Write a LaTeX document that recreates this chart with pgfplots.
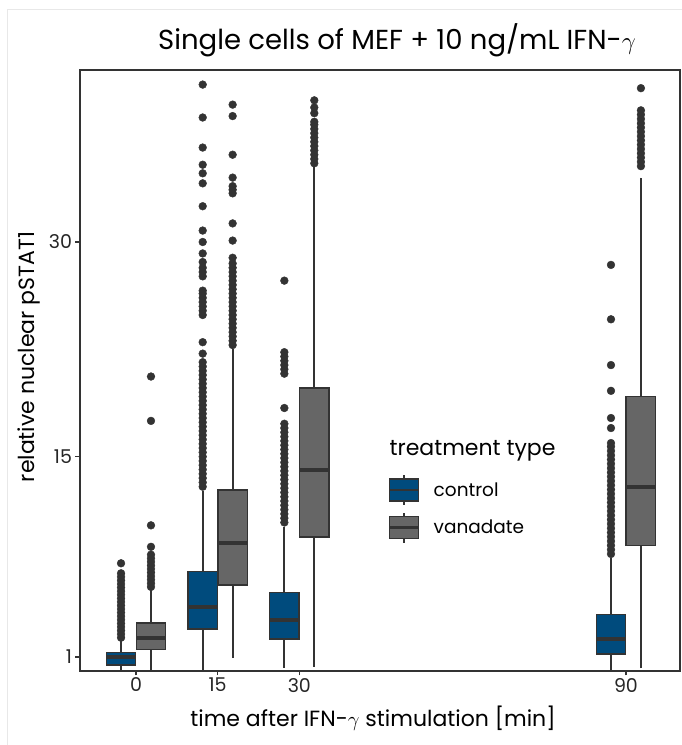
\documentclass[border=0pt]{standalone}
\usepackage{pgfplots}
\pgfplotsset{compat=1.18}
\usepgfplotslibrary{statistics}
\usepackage{fontspec}
\setmainfont{Poppins}
\definecolor{ctrl}{HTML}{004B7D}
\definecolor{vana}{HTML}{666666}
\definecolor{dk}{HTML}{333333}
\begin{document}
\begin{tikzpicture}[x=1pt,y=1pt]
\useasboundingbox (0,0) rectangle (682,745);
\draw[color=black!9, line width=0.8pt] (7,0) -- (7,736) -- (682,736);
\begin{axis}[
  at={(80pt,74pt)}, anchor=south west,
  scale only axis, width=600pt, height=601pt,
  xmin=-10.29, xmax=99.93, ymin=0.022, ymax=42.02,
  xtick={0,15,30,90}, ytick={1,15,30},
  axis line style={dk, line width=1.1pt},
  tick style={dk, line width=1.1pt},
  tick align=outside, major tick length=4.5pt, tick pos=left,
  ticklabel style={font=\fontsize{19}{20}\selectfont, color=black!85},
  xticklabel style={yshift=1pt},
  /pgf/number format/assume math mode=true,
  boxplot/draw direction=y,
  bx/.style={forget plot, draw=dk, line width=1.5pt,
    boxplot/every median/.style={line width=3.8pt, draw=dk},
    boxplot/every whisker/.style={line width=2pt, draw=dk},
    boxplot/every box/.style={line width=1.5pt, draw=dk}},
  legend style={at={(0.5133,0.3278)}, anchor=north west, draw=none, fill=none,
    font=\fontsize{18.5}{19}\selectfont, row sep=6pt, column sep=12pt, inner sep=0pt},
  legend cell align=left,
]
\addlegendimage{legend image code/.code={
  \draw[dk, line width=1.6pt] (14.5pt,-15pt)--(14.5pt,15pt);
  \draw[dk, line width=1.3pt, fill=ctrl] (0pt,-11pt) rectangle (29pt,11pt);
  \draw[dk, line width=2.5pt] (0pt,0pt)--(29pt,0pt);}}
\addlegendentry{control}
\addlegendimage{legend image code/.code={
  \draw[dk, line width=1.6pt] (14.5pt,-15pt)--(14.5pt,15pt);
  \draw[dk, line width=1.3pt, fill=vana] (0pt,-11pt) rectangle (29pt,11pt);
  \draw[dk, line width=2.5pt] (0pt,0pt)--(29pt,0pt);}}
\addlegendentry{vanadate}

% time 0
\addplot[bx, fill=ctrl, boxplot prepared={draw position=-2.75, lower whisker=-1, lower quartile=0.44, median=1.0, upper quartile=1.30, upper whisker=2.2, box extend=5.4, whisker extend=0}] coordinates {};
\addplot[bx, fill=vana, boxplot prepared={draw position=2.75, lower whisker=-1, lower quartile=1.54, median=2.35, upper quartile=3.36, upper whisker=5.7, box extend=5.4, whisker extend=0}] coordinates {};
% time 15
\addplot[bx, fill=ctrl, boxplot prepared={draw position=12.25, lower whisker=-1, lower quartile=2.96, median=4.52, upper quartile=6.96, upper whisker=12.6, box extend=5.4, whisker extend=0}] coordinates {};
\addplot[bx, fill=vana, boxplot prepared={draw position=17.75, lower whisker=0.93, lower quartile=6.03, median=8.95, upper quartile=12.67, upper whisker=22.5, box extend=5.4, whisker extend=0}] coordinates {};
% time 30
\addplot[bx, fill=ctrl, boxplot prepared={draw position=27.25, lower whisker=0.25, lower quartile=2.26, median=3.59, upper quartile=5.5, upper whisker=10.1, box extend=5.4, whisker extend=0}] coordinates {};
\addplot[bx, fill=vana, boxplot prepared={draw position=32.75, lower whisker=0.3, lower quartile=9.4, median=14.07, upper quartile=19.8, upper whisker=35.3, box extend=5.4, whisker extend=0}] coordinates {};
% time 90
\addplot[bx, fill=ctrl, boxplot prepared={draw position=87.25, lower whisker=-1, lower quartile=1.21, median=2.26, upper quartile=3.96, upper whisker=7.9, box extend=5.4, whisker extend=0}] coordinates {};
\addplot[bx, fill=vana, boxplot prepared={draw position=92.75, lower whisker=0.2, lower quartile=8.8, median=12.9, upper quartile=19.2, upper whisker=34.5, box extend=5.4, whisker extend=0}] coordinates {};

% outliers
\addplot[forget plot, only marks, mark=*, mark size=3.9pt, color=dk, mark options={draw=none, fill=dk}] table[row sep=\\] {
x y\\
-2.75 2.35\\ -2.75 2.6\\ -2.75 2.85\\ -2.75 3.1\\ -2.75 3.35\\ -2.75 3.6\\ -2.75 3.85\\ -2.75 4.1\\ -2.75 4.35\\ -2.75 4.6\\ -2.75 4.85\\ -2.75 5.1\\ -2.75 5.35\\ -2.75 5.6\\ -2.75 5.85\\ -2.75 6.1\\ -2.75 6.35\\ -2.75 6.6\\ -2.75 6.85\\ -2.75 7.55\\
2.75 5.9\\ 2.75 6.15\\ 2.75 6.4\\ 2.75 6.65\\ 2.75 6.9\\ 2.75 7.15\\ 2.75 7.4\\ 2.75 7.65\\ 2.75 7.9\\ 2.75 8.15\\ 2.75 8.7\\ 2.75 10.2\\ 2.75 17.5\\ 2.75 20.6\\
12.25 12.9\\ 12.25 13.2\\ 12.25 13.5\\ 12.25 13.8\\ 12.25 14.1\\ 12.25 14.4\\ 12.25 14.7\\ 12.25 15.0\\ 12.25 15.3\\ 12.25 15.6\\ 12.25 15.9\\ 12.25 16.2\\ 12.25 16.5\\ 12.25 16.8\\ 12.25 17.1\\ 12.25 17.4\\ 12.25 17.7\\ 12.25 18.0\\ 12.25 18.3\\ 12.25 18.6\\ 12.25 18.9\\ 12.25 19.2\\ 12.25 19.5\\ 12.25 19.8\\ 12.25 20.1\\ 12.25 20.4\\ 12.25 20.7\\ 12.25 21.0\\ 12.25 21.3\\ 12.25 21.6\\ 12.25 22.2\\ 12.25 23.0\\ 12.25 24.9\\ 12.25 25.2\\ 12.25 25.5\\ 12.25 25.8\\ 12.25 26.1\\ 12.25 26.4\\ 12.25 26.6\\ 12.25 27.6\\ 12.25 27.9\\ 12.25 28.2\\ 12.25 28.6\\ 12.25 29.2\\ 12.25 30.0\\ 12.25 30.8\\ 12.25 32.5\\ 12.25 34.1\\ 12.25 34.8\\ 12.25 35.4\\ 12.25 36.6\\ 12.25 38.7\\ 12.25 41.0\\
17.75 22.8\\ 17.75 23.1\\ 17.75 23.4\\ 17.75 23.7\\ 17.75 24.0\\ 17.75 24.3\\ 17.75 24.6\\ 17.75 24.9\\ 17.75 25.2\\ 17.75 25.5\\ 17.75 25.8\\ 17.75 26.1\\ 17.75 26.4\\ 17.75 26.7\\ 17.75 27.0\\ 17.75 27.3\\ 17.75 27.6\\ 17.75 27.9\\ 17.75 28.2\\ 17.75 28.5\\ 17.75 28.9\\ 17.75 30.1\\ 17.75 31.3\\ 17.75 33.4\\ 17.75 33.65\\ 17.75 33.9\\ 17.75 34.5\\ 17.75 36.1\\ 17.75 38.8\\ 17.75 39.6\\
27.25 10.4\\ 27.25 10.7\\ 27.25 11.0\\ 27.25 11.3\\ 27.25 11.6\\ 27.25 11.9\\ 27.25 12.2\\ 27.25 12.5\\ 27.25 12.8\\ 27.25 13.1\\ 27.25 13.4\\ 27.25 13.7\\ 27.25 14.0\\ 27.25 14.3\\ 27.25 14.6\\ 27.25 14.9\\ 27.25 15.2\\ 27.25 15.5\\ 27.25 15.8\\ 27.25 16.1\\ 27.25 16.4\\ 27.25 16.7\\ 27.25 17.0\\ 27.25 17.3\\ 27.25 18.4\\ 27.25 20.8\\ 27.25 21.1\\ 27.25 21.4\\ 27.25 21.7\\ 27.25 22.0\\ 27.25 22.3\\ 27.25 27.3\\
32.75 35.5\\ 32.75 35.8\\ 32.75 36.1\\ 32.75 36.4\\ 32.75 36.7\\ 32.75 37.0\\ 32.75 37.3\\ 32.75 37.6\\ 32.75 37.9\\ 32.75 38.2\\ 32.75 38.4\\ 32.75 39.0\\ 32.75 39.4\\ 32.75 39.9\\
87.25 8.2\\ 87.25 8.5\\ 87.25 8.8\\ 87.25 9.1\\ 87.25 9.4\\ 87.25 9.7\\ 87.25 10.0\\ 87.25 10.3\\ 87.25 10.6\\ 87.25 10.9\\ 87.25 11.2\\ 87.25 11.5\\ 87.25 11.8\\ 87.25 12.1\\ 87.25 12.4\\ 87.25 12.7\\ 87.25 13.0\\ 87.25 13.3\\ 87.25 13.6\\ 87.25 13.9\\ 87.25 14.2\\ 87.25 14.5\\ 87.25 14.8\\ 87.25 15.1\\ 87.25 15.4\\ 87.25 15.7\\ 87.25 15.95\\ 87.25 17.0\\ 87.25 17.7\\ 87.25 19.6\\ 87.25 21.4\\ 87.25 24.6\\ 87.25 28.4\\
92.75 35.3\\ 92.75 35.6\\ 92.75 35.9\\ 92.75 36.2\\ 92.75 36.5\\ 92.75 36.8\\ 92.75 37.1\\ 92.75 37.4\\ 92.75 37.7\\ 92.75 38.0\\ 92.75 38.3\\ 92.75 38.6\\ 92.75 38.9\\ 92.75 39.2\\ 92.75 40.75\\
};
\end{axis}
\node[anchor=base, font=\fontsize{27.5}{29}\selectfont] at (397,695) {Single cells of MEF + 10 ng/mL IFN-$\gamma$};
\node[anchor=base, font=\fontsize{22}{24}\selectfont] at (373,18) {time after IFN-$\gamma$ stimulation [min]};
\node[anchor=base, rotate=90, font=\fontsize{22}{24}\selectfont] at (34,388) {relative nuclear pSTAT1};
\node[anchor=base west, font=\fontsize{22}{24}\selectfont] at (386,289) {treatment type};
\end{tikzpicture}
\end{document}
